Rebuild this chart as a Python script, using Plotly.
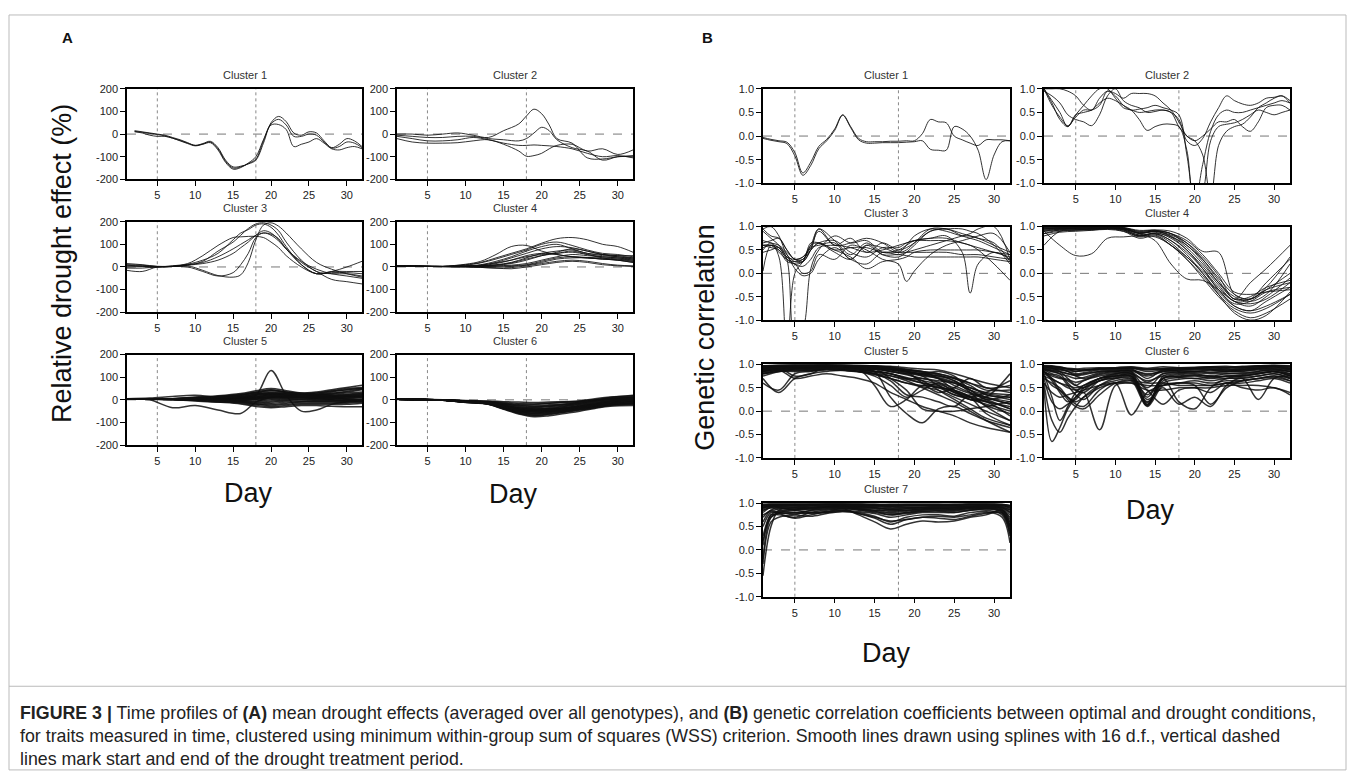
import plotly.graph_objects as go

# page size; the browser adds an 8 px body margin, so the figure is drawn 16 px smaller
PAGE_W, PAGE_H = 1355, 779
OFF = 8
FIG_W, FIG_H = PAGE_W - 2 * OFF, PAGE_H - 2 * OFF

# ---------------- Panel A: relative drought effect (%) ----------------
A1_DAYS = list(range(2, 33))
A1_LINES = [
    [15, 10, 5, 0, -5, -15, -25, -38, -50, -42, -32, -60, -115, -145, -142, -132, -115, -40, 50, 78, 55, 5, -5, 10, 5, -30, -60, -45, -20, -30, -55],
    [12, 8, 3, -2, -8, -18, -28, -40, -50, -44, -35, -65, -120, -150, -145, -130, -110, -30, 45, 65, 40, -10, -10, 0, -5, -35, -62, -55, -35, -40, -60],
    [10, 5, -5, -10, -10, -18, -30, -42, -52, -45, -38, -70, -125, -155, -148, -128, -100, -25, 40, 42, 20, -55, -45, -35, -20, -40, -65, -70, -60, -55, -65],
]

A2_DAYS = [1, 3, 5, 7, 9, 11, 13, 15, 17, 18, 19, 20, 21, 22, 24, 26, 28, 30, 32]
A2_LINES = [
    [0, 0, -5, 0, 5, -5, -15, 15, 45, 80, 110, 90, 40, -20, -40, -105, -110, -100, -95],
    [-5, -10, -15, -15, -10, -10, -20, -25, -30, -20, 5, 30, 15, -25, -60, -75, -115, -100, -100],
    [-20, -35, -40, -40, -38, -30, -25, -45, -75, -98, -95, -85, -65, -50, -45, -75, -65, -90, -70],
    [-10, -20, -30, -30, -25, -15, -25, -40, -50, -50, -48, -50, -52, -55, -65, -85, -100, -95, -105],
]

A3_DAYS = [1, 3, 5, 7, 9, 11, 13, 15, 16, 17, 18, 19, 20, 21, 22, 24, 26, 28, 30, 32]
A3_LINES = [
    [10, 8, 2, 2, 8, 25, 70, 110, 140, 170, 190, 195, 185, 160, 110, 30, -20, -30, -30, -40],
    [5, 5, 0, 3, 12, 30, 60, 120, 150, 165, 185, 190, 175, 140, 90, 10, -30, -20, 0, 25],
    [15, 10, 3, 3, 10, 20, 45, 80, 100, 120, 140, 150, 145, 125, 80, 10, -30, -20, -20, -20],
    [0, 2, 0, 5, 15, 50, 95, 130, 133, 135, 135, 130, 110, 85, 50, 0, -30, -25, -25, -30],
    [-5, -5, 0, 2, 5, -15, -38, -45, -35, 20, 120, 185, 195, 180, 150, 80, 20, -10, -30, -45],
    [-15, -20, 0, 2, 0, -20, -40, -25, 10, 60, 130, 150, 140, 115, 80, 20, -20, -55, -65, -75],
    [8, 3, 0, 3, 8, 15, 30, 60, 85, 110, 140, 160, 150, 120, 80, 25, -10, -30, -40, -50],
]

A4_DAYS = [1, 4, 7, 10, 12, 14, 16, 18, 20, 22, 24, 26, 28, 30, 32]
A4_LINES = [
    [5, 3, 3, 10, 20, 40, 60, 80, 105, 125, 130, 120, 100, 90, 65],
    [5, 3, 3, 12, 25, 55, 90, 95, 70, 55, 45, 40, 35, 35, 30],
    [5, 3, 2, 8, 18, 35, 55, 75, 100, 110, 95, 75, 60, 55, 45],
    [5, 3, 2, 5, 10, 25, 45, 70, 90, 100, 80, 60, 55, 50, 50],
    [5, 3, 2, 4, 8, 20, 40, 60, 80, 90, 85, 70, 55, 45, 40],
    [5, 3, 2, 3, 5, 10, 20, 40, 60, 70, 75, 60, 50, 45, 35],
    [5, 3, 2, 3, 5, 8, 15, 30, 50, 65, 80, 70, 55, 50, 40],
    [5, 3, 2, 2, 3, 5, 8, 15, 30, 45, 55, 50, 45, 40, 30],
    [5, 3, 2, 2, 2, 3, 5, 10, 25, 40, 45, 42, 40, 35, 25],
    [5, 3, 2, 1, 0, 0, 2, 8, 20, 35, 40, 40, 35, 30, 20],
    [5, 3, 2, 2, 5, 15, 30, 50, 60, 55, 45, 40, 35, 30, 25],
    [5, 3, 1, 0, -2, -5, -3, 5, 15, 25, 30, 25, 15, 8, 5],
    [5, 3, 1, 0, -2, -5, -8, 0, 10, 20, 25, 20, 10, 5, 2],
    [5, 3, 2, 3, 8, 18, 30, 45, 55, 60, 65, 55, 45, 40, 35],
    [5, 3, 2, 2, 3, 8, 18, 35, 50, 60, 70, 55, 40, 30, 20],
]

A5_DAYS = [1, 4, 7, 10, 13, 16, 18, 20, 22, 24, 26, 28, 30, 32]
A5_LINES = [
    [5, 5, 3, 2, 5, 10, 20, 130, 20, -50, -45, -20, -10, -5],
    [5, 0, -35, -25, -45, -60, -10, 10, 15, 10, 5, 0, -5, -10],
    [5, 5, 5, 10, 15, 25, 35, 45, 35, 30, 35, 45, 55, 65],
    [5, 5, 5, 8, 12, 20, 30, 40, 35, 25, 30, 40, 50, 55],
    [5, 5, 5, 6, 10, 15, 25, 35, 30, 25, 25, 30, 35, 45],
    [5, 5, 4, 5, 8, 12, 20, 30, 25, 20, 20, 25, 30, 35],
    [5, 5, 4, 4, 6, 10, 15, 25, 25, 20, 18, 20, 25, 30],
    [5, 5, 4, 4, 5, 8, 12, 20, 20, 18, 15, 15, 20, 25],
    [5, 5, 4, 3, 4, 5, 8, 15, 15, 15, 12, 12, 15, 20],
    [5, 5, 3, 2, 3, 3, 5, 10, 10, 10, 10, 10, 10, 15],
    [5, 5, 3, 2, 1, 0, 0, 5, 5, 5, 5, 5, 5, 10],
    [5, 5, 3, 1, 0, -3, -5, 0, 2, 2, 0, 0, 0, 5],
    [5, 5, 3, 0, -3, -8, -15, -10, -5, -5, -5, -5, -5, 0],
    [5, 4, 2, 0, -5, -12, -20, -20, -15, -10, -10, -10, -10, -5],
    [5, 4, 2, -2, -8, -15, -25, -30, -25, -20, -20, -20, -20, -15],
    [5, 4, 1, -3, -10, -18, -30, -35, -30, -25, -25, -28, -30, -30],
    [5, 5, 5, 12, 18, 28, 40, 50, 40, 30, 25, 20, 18, 15],
    [5, 5, 5, 8, 15, 20, 30, 20, 10, 15, 25, 35, 45, 50],
    [5, 3, 0, -5, -10, -5, 5, 15, 20, 20, 15, 10, 5, 0],
    [5, 8, 15, 20, 10, 5, 10, 25, 20, 15, 10, 5, 0, -5],
    [5, 5, 5, 7, 10, 16, 25, 30, 28, 22, 22, 28, 38, 48],
    [5, 5, 4, 5, 7, 10, 18, 25, 22, 18, 16, 18, 22, 28],
    [5, 5, 4, 4, 5, 7, 10, 18, 18, 16, 14, 14, 16, 18],
    [5, 5, 4, 3, 3, 4, 6, 12, 12, 12, 10, 10, 12, 14],
    [5, 5, 3, 2, 2, 2, 3, 8, 8, 8, 8, 8, 8, 12],
    [5, 5, 3, 1, -1, -4, -8, -5, -2, 0, -2, -2, -3, 2],
    [5, 5, 3, 0, -2, -6, -12, -15, -10, -8, -8, -8, -8, -3],
    [5, 5, 5, 9, 14, 22, 32, 42, 32, 28, 30, 38, 45, 50],
    [5, 4, 2, -1, -6, -10, -18, -25, -20, -15, -15, -15, -15, -10],
    [5, 5, 4, 6, 9, 14, 22, 28, 24, 20, 22, 20, 18, 22],
]

A6_DAYS = [1, 4, 7, 10, 13, 15, 17, 19, 21, 23, 25, 27, 29, 32]
A6_LINES = [
    [3, 2, 0, -3, -5, -8, -10, -12, -10, -8, -5, 0, 10, 20],
    [3, 2, 0, -5, -8, -15, -20, -20, -15, -10, -5, 5, 12, 18],
    [3, 2, 0, -5, -10, -18, -25, -30, -25, -20, -10, 0, 8, 12],
    [3, 2, 0, -6, -12, -22, -32, -35, -30, -25, -15, -5, 3, 8],
    [3, 2, 0, -7, -13, -25, -38, -42, -38, -30, -20, -10, -2, 5],
    [3, 2, -1, -8, -14, -28, -42, -48, -42, -35, -25, -15, -5, 0],
    [3, 2, -1, -8, -15, -30, -45, -52, -48, -40, -30, -20, -10, -5],
    [3, 2, -1, -9, -16, -32, -48, -55, -52, -45, -35, -25, -15, -10],
    [3, 2, -1, -10, -17, -35, -52, -60, -55, -48, -38, -28, -18, -12],
    [3, 2, -1, -10, -18, -38, -56, -65, -60, -52, -42, -32, -22, -15],
    [3, 2, -2, -11, -19, -40, -60, -70, -65, -55, -45, -35, -25, -20],
    [3, 2, -2, -12, -20, -42, -63, -75, -70, -60, -50, -38, -28, -25],
    [3, 2, -1, -9, -15, -30, -40, -45, -45, -42, -35, -28, -20, -15],
    [3, 2, 0, -7, -12, -26, -35, -38, -40, -38, -32, -25, -18, -8],
    [3, 2, -1, -9, -16, -34, -50, -58, -50, -40, -28, -18, -8, -3],
    [3, 2, 0, -4, -7, -12, -16, -18, -15, -12, -8, -2, 5, 14],
    [3, 2, 0, -5, -9, -17, -23, -26, -22, -18, -12, -4, 4, 10],
    [3, 2, 0, -6, -11, -20, -28, -32, -28, -22, -15, -6, 2, 6],
    [3, 2, -1, -7, -12, -24, -35, -40, -35, -28, -20, -12, -4, 2],
    [3, 2, -1, -8, -14, -27, -40, -45, -40, -34, -25, -16, -8, -2],
    [3, 2, -1, -9, -16, -30, -45, -50, -45, -38, -30, -22, -14, -8],
    [3, 2, -1, -10, -18, -36, -54, -62, -56, -48, -40, -30, -20, -14],
    [3, 2, -2, -11, -19, -39, -58, -68, -62, -54, -44, -34, -24, -18],
    [3, 2, -1, -8, -13, -26, -38, -44, -42, -38, -30, -22, -14, -10],
    [3, 2, -1, -9, -15, -30, -44, -52, -48, -42, -34, -26, -18, -12],
]

# ---------------- Panel B: genetic correlation ----------------
B1_DAYS = list(range(1, 33))
B1_LINES = [
    [-.03, -.07, -.1, -.13, -.35, -.78, -.55, -.22, -.07, .15, .45, .2, -.05, -.12, -.12, -.12, -.11, -.11, -.1, -.1, .05, .35, .3, .28, 0, -.08, -.15, -.2, -.08, -.08, -.08, -.1],
    [-.05, -.09, -.12, -.16, -.42, -.83, -.62, -.27, -.1, .12, .44, .18, -.08, -.15, -.15, -.14, -.14, -.14, -.13, -.12, -.1, -.28, -.3, -.3, .2, .15, 0, -.3, -.92, -.4, -.12, -.1],
]

B2_DAYS = list(range(1, 33))
B2_LINES = [
    [1, .7, .35, .2, .45, .65, .85, 1, 1, .8, .6, .55, .5, .52, .55, .55, .5, .35, -.1, -.2, -.05, .3, .6, .85, .75, .68, .65, .7, .8, .82, .85, .7],
    [1, .65, .4, .22, .4, .55, .55, .65, .95, .85, .65, .55, .57, .6, .65, .6, .55, .45, -.4, -1.4, -.6, .1, .45, .55, .5, .5, .55, .6, .65, .7, .75, .7],
    [.95, .85, .7, .45, .35, .3, .22, .45, .85, 1, .75, .65, .6, .5, .52, .55, .5, .2, 0, -.1, 0, .15, .3, .3, .35, .2, .1, .3, .6, .65, .65, .55],
    [1, .75, .5, .2, .45, .5, .55, .7, .8, .75, .65, .55, .35, .12, .2, .25, .25, .2, -.3, -1.5, -1.2, -.1, .2, .25, .28, .35, .45, .55, .5, .45, .5, .55],
    [1, 1, 1, .95, .85, .65, .55, .8, .95, .9, .8, .9, .9, .9, .85, .7, .55, .3, 0, -.1, -.4, -1.3, -.2, .1, .2, .25, .4, .6, .7, .8, .85, .75],
]

B3_DAYS = [1, 2, 3, 4, 5, 6, 7, 8, 10, 12, 14, 16, 18, 19, 20, 22, 24, 26, 27, 28, 30, 32]
B3_LINES = [
    [.6, .6, .45, .3, .25, .3, .5, .65, .5, .55, .55, .45, .5, .6, .7, .75, .75, .65, .6, .55, .45, .35],
    [.55, .6, .5, .35, .3, .35, .6, .95, .7, .4, .65, .4, .35, .45, .6, .9, .95, .8, .75, .7, .55, .4],
    [.5, .65, .35, -1.6, 0, .25, .55, .6, .65, .3, .6, .4, .4, .38, .35, .35, .35, .35, .35, .35, .3, .25],
    [.9, .75, .6, .3, -1.4, -1.2, .1, .5, .8, .65, .7, .45, .45, .45, .45, .45, .45, .4, .4, .4, .35, .3],
    [.05, .6, .55, .3, .2, .25, .65, .65, .45, .3, .6, .55, .45, .6, .8, .95, .9, .8, .8, .75, .6, .45],
    [.6, .55, .5, .25, .2, 0, .05, .4, .3, .6, .5, .3, .2, -.17, .05, .4, .6, .7, .75, .8, .85, .45],
    [.6, .6, .55, .35, .2, .15, .3, .55, .6, .55, .45, .5, .6, .65, .7, .75, .8, .45, -.42, .2, .45, .3],
    [.95, .8, .75, .5, .3, .35, .55, .9, .6, .75, .45, .65, .5, .55, .65, .9, .95, .95, .9, .85, .6, .2],
    [.7, .65, .6, .45, .3, .25, .5, .65, .7, .45, .35, .55, .55, .65, .7, .7, .7, .65, .6, .5, .2, -.15],
    [.45, .5, .55, .4, .1, -.05, 0, .3, .55, .3, .2, .45, .4, .45, .5, .6, .7, .8, .85, .95, 1, .3],
    [.65, .7, .75, .5, .3, .3, .6, .65, .5, .35, .1, .25, .3, .35, .45, .5, .5, .5, .5, .5, .45, .4],
    [.95, 1, .8, .4, .25, .25, .5, .95, .6, .65, .75, .65, .45, .5, .65, .95, .95, .85, .8, .75, .65, .25],
]

B4_DAYS = [1, 3, 5, 7, 9, 11, 13, 15, 17, 19, 21, 23, 25, 27, 29, 32]
B4_LINES = [
    [.95, .97, .97, .98, .98, .97, .9, .92, .85, .6, .3, -.1, -.45, -.55, -.3, .35],
    [.9, .95, .96, .97, .98, .95, .85, .9, .8, .55, .2, -.2, -.5, -.6, -.45, .2],
    [.85, .93, .95, .95, .97, .93, .8, .85, .7, .45, .1, -.3, -.6, -.7, -.5, -.1],
    [.6, .9, .92, .93, .96, .9, .75, .8, .6, .35, 0, -.4, -.7, -.8, -.6, -.3],
    [.9, .6, .38, .42, .75, .78, .8, .78, .6, .3, -.05, -.45, -.75, -.85, -.75, -.45],
    [.95, .97, .95, .93, .95, .95, .85, .7, .2, -.12, -.15, -.35, -.6, -.65, -.55, -.2],
    [.97, .98, .98, .99, .99, .98, .92, .93, .9, .75, .47, .45, -.45, -.55, -.35, 0],
    [.98, .99, .98, .98, .99, .97, .88, .9, .82, .65, .35, -.05, -.55, -.2, .1, .6],
    [.9, .92, .93, .95, .96, .92, .78, .82, .6, .3, -.1, -.5, -.8, -.95, -.85, -.55],
    [.93, .95, .95, .96, .97, .95, .86, .88, .75, .5, .1, -.35, -.65, -.6, -.4, -.3],
    [.8, .88, .9, .92, .94, .9, .8, .85, .7, .4, 0, -.45, -.85, -1, -.9, -.4],
    [.97, .96, .96, .97, .97, .96, .86, .9, .85, .65, .3, -.15, -.55, -.5, -.3, -.15],
    [.92, .94, .95, .95, .96, .94, .82, .86, .78, .6, .25, -.2, -.55, -.55, -.35, -.2],
    [.95, .97, .97, .97, .98, .96, .87, .9, .78, .5, .15, -.25, -.6, -.55, -.2, .3],
    [.99, .99, .99, .99, .99, .98, .9, .92, .85, .7, .4, 0, -.4, -.45, -.4, -.35],
    [.85, .9, .93, .94, .95, .93, .82, .84, .65, .35, .05, -.35, -.7, -.8, -.7, -.45],
]

B5_DAYS = [1, 3, 5, 7, 9, 11, 13, 15, 17, 19, 21, 23, 25, 27, 29, 32]
B5_LINES = [
    [.95, .97, .98, .98, .99, .98, .97, .95, .9, .85, .8, .75, .7, .6, .5, .4],
    [.9, .95, .97, .97, .98, .97, .95, .9, .88, .82, .75, .7, .55, .4, .3, .2],
    [.85, .92, .95, .93, .96, .95, .9, .85, .8, .7, .6, .55, .4, .3, .2, .1],
    [.8, .88, .9, .9, .93, .92, .88, .8, .7, .6, .55, .5, .35, .25, .15, 0],
    [.95, .98, .99, .99, .99, .99, .98, .97, .95, .9, .85, .8, .7, .55, .35, .3],
    [.75, .85, .88, .87, .9, .9, .85, .75, .55, .3, .45, .6, .4, .25, .2, -.1],
    [.6, .45, .8, .85, .9, .88, .85, .9, .7, .45, .05, 0, 0, .05, .1, .2],
    [.7, .4, .7, .8, .85, .88, .9, .55, .1, .25, .55, .5, .45, .3, -.05, -.3],
    [.9, .93, .75, .8, .95, .93, .92, .85, .3, -.05, -.25, .05, .1, -.05, -.2, -.35],
    [.85, .9, .92, .93, .95, .9, .85, .8, .75, .65, .5, .35, .2, 0, -.2, -.45],
    [.92, .95, .96, .95, .97, .96, .93, .9, .85, .8, .65, .45, .25, .05, -.15, -.3],
    [.88, .9, .9, .9, .92, .95, .95, .93, .9, .88, .85, .7, .45, .25, .3, .8],
    [.95, .96, .95, .97, .98, .97, .96, .95, .93, .85, .6, .4, .5, .7, .5, .55],
    [.8, .85, .85, .88, .9, .88, .85, .8, .65, .35, .3, .2, .1, .35, .25, .05],
    [.93, .95, .95, .96, .97, .95, .9, .85, .8, .7, .7, .65, .6, .45, .25, .35],
    [.97, .98, .98, .99, .99, .98, .97, .96, .92, .85, .75, .55, .35, .3, .4, .65],
    [.85, .88, .7, .75, .8, .75, .7, .6, .4, .25, .1, 0, -.1, -.25, -.35, -.45],
    [.9, .92, .93, .94, .95, .95, .95, .92, .85, .8, .8, .75, .65, .4, .1, -.2],
    [.97, .98, .99, .98, .97, .98, .98, .97, .96, .93, .9, .88, .8, .7, .6, .5],
    [.88, .9, .92, .93, .95, .93, .92, .9, .88, .85, .8, .85, .75, .45, .3, .15],
    [.92, .96, .97, .97, .98, .97, .96, .94, .9, .85, .78, .7, .6, .45, .35, .25],
    [.88, .93, .95, .95, .96, .95, .93, .9, .85, .78, .7, .62, .5, .38, .28, .15],
    [.96, .98, .98, .99, .99, .98, .97, .96, .94, .88, .82, .78, .65, .5, .4, .35],
    [.85, .9, .92, .92, .94, .93, .9, .86, .8, .72, .65, .58, .45, .32, .22, .05],
    [.9, .94, .95, .96, .97, .96, .95, .93, .9, .84, .78, .72, .62, .5, .38, .3],
    [.82, .88, .9, .9, .92, .9, .88, .83, .76, .68, .6, .52, .42, .3, .12, -.05],
    [.94, .97, .98, .98, .99, .98, .97, .95, .92, .88, .84, .8, .72, .6, .45, .45],
    [.8, .85, .87, .86, .88, .87, .84, .78, .7, .6, .52, .45, .3, .15, 0, -.2],
]

B6_DAYS = [1, 2, 3, 4, 5, 6, 8, 10, 12, 14, 16, 18, 20, 22, 24, 26, 28, 30, 32]
B6_LINES = [
    [.95, .95, .93, .9, .9, .92, .93, .92, .93, .9, .9, .92, .93, .95, .93, .95, .97, .98, .95],
    [.9, .88, .85, .8, .78, .8, .85, .85, .88, .8, .85, .88, .9, .9, .88, .9, .92, .95, .9],
    [.85, .75, .7, .65, .55, .65, .75, .8, .82, .5, .8, .82, .85, .82, .85, .85, .9, .9, .85],
    [.8, .3, -.2, .1, .4, .55, .7, .75, .78, .15, .7, .78, .8, .75, .8, .8, .85, .88, .8],
    [.5, -.65, -.35, .05, .3, .45, .65, .7, .72, .12, .65, .72, .75, .7, .75, .75, .8, .85, .75],
    [.6, -.2, -.45, -.15, .1, .3, .55, .65, .68, .2, .6, .68, .7, .65, .7, .7, .75, .8, .7],
    [.7, .2, .05, .15, .25, .4, -.4, .55, .6, .55, .55, .6, .65, .6, .65, .65, .7, .75, .65],
    [.75, .55, .45, .3, .15, .1, .45, .6, -.08, .4, .55, .6, .6, .55, .6, .6, .65, .7, .6],
    [.95, .92, .85, .7, .55, .5, .7, .8, .8, .3, .7, .2, .05, .5, .7, .75, .8, .85, .8],
    [.9, .85, .8, .6, .45, .4, .65, .75, .75, .25, .5, .15, .3, .1, .55, .7, .25, .7, .75],
    [.88, .8, .75, .55, .35, .25, .55, .7, .7, .45, .15, .45, .5, .4, .6, .5, .45, .5, .35],
    [.98, .97, .95, .9, .85, .88, .9, .9, .92, .85, .88, .9, .92, .93, .9, .92, .95, .97, .93],
    [.92, .9, .88, .85, .8, .82, .88, .88, .9, .7, .88, .85, .85, .88, .85, .88, .9, .92, .88],
    [.7, .6, .5, .3, .2, .3, .5, .6, .65, .6, .6, .55, .55, .55, .6, .65, .7, .72, .65],
    [.85, .7, .45, .25, .1, .05, .35, .6, .65, .1, .55, .6, .55, .15, .5, .65, .7, .75, .7],
    [.6, .4, .3, .35, .4, .45, .55, .6, .6, .45, .45, .5, .5, .5, .55, .55, .55, .5, .4],
    [.95, .93, .9, .85, .75, .7, .8, .85, .85, .13, .75, .8, .82, .8, .8, .82, .85, .88, .85],
    [.85, .65, .4, .2, .3, .5, .7, .75, .75, .18, .7, .75, .78, .75, .75, .78, .82, .85, .78],
    [.97, .96, .94, .92, .9, .88, .9, .93, .95, .92, .95, .93, .92, .95, .96, .94, .96, .98, .97],
    [.8, .7, .6, .55, .5, .55, .7, .78, .8, .65, .75, .72, .7, .72, .7, .72, .75, .8, .72],
    [.93, .92, .9, .87, .85, .86, .9, .9, .92, .88, .9, .9, .92, .93, .92, .94, .95, .96, .92],
    [.88, .85, .8, .75, .7, .72, .82, .85, .86, .75, .84, .86, .88, .88, .86, .88, .92, .94, .88],
    [.96, .95, .93, .9, .88, .88, .92, .93, .94, .9, .92, .93, .94, .95, .94, .96, .97, .98, .96],
    [.82, .78, .72, .68, .62, .66, .78, .82, .84, .62, .8, .83, .85, .84, .84, .86, .88, .9, .84],
    [.9, .87, .84, .8, .76, .78, .85, .87, .88, .78, .86, .88, .9, .9, .88, .9, .93, .95, .9],
    [.75, .68, .6, .5, .45, .5, .65, .72, .75, .35, .7, .74, .76, .74, .74, .76, .8, .84, .76],
]

B7_DAYS = [1, 2, 3, 5, 7, 9, 11, 13, 15, 17, 19, 21, 23, 25, 27, 29, 31, 32]
B7_LINES = [
    [.95, .97, .97, .97, .97, .97, .97, .97, .97, .97, .97, .97, .97, .97, .97, .97, .97, .95],
    [.9, .95, .95, .95, .96, .96, .96, .95, .95, .94, .95, .95, .95, .95, .96, .96, .95, .9],
    [.8, .92, .93, .92, .94, .94, .94, .93, .93, .92, .92, .92, .93, .93, .94, .94, .92, .85],
    [-.55, .5, .85, .9, .9, .92, .92, .9, .9, .88, .9, .9, .9, .9, .92, .92, .9, .8],
    [-.2, .7, .8, .85, .88, .9, .9, .88, .85, .85, .85, .88, .88, .88, .9, .9, .85, .6],
    [.1, .75, .75, .7, .8, .85, .88, .85, .8, .75, .8, .85, .85, .85, .88, .88, .8, .4],
    [.5, .8, .78, .68, .75, .82, .85, .82, .78, .7, .75, .8, .8, .8, .85, .85, .75, .3],
    [.7, .85, .8, .75, .72, .78, .82, .8, .72, .6, .7, .75, .75, .72, .8, .82, .7, .15],
    [.85, .9, .85, .8, .78, .8, .85, .78, .68, .55, .65, .7, .68, .65, .72, .78, .8, .5],
    [.9, .93, .9, .85, .8, .82, .88, .75, .6, .45, .55, .62, .6, .62, .7, .75, .85, .7],
    [-.3, .6, .7, .75, .85, .88, .9, .87, .83, .75, .78, .82, .83, .8, .85, .88, .82, .5],
    [.3, .75, .82, .87, .9, .92, .93, .9, .88, .82, .85, .87, .88, .87, .9, .9, .88, .65],
    [.95, .96, .96, .96, .97, .98, .98, .97, .96, .93, .94, .95, .96, .96, .97, .97, .96, .88],
    [.75, .82, .8, .78, .8, .8, .82, .78, .7, .62, .65, .7, .72, .7, .75, .8, .78, .35],
    [.92, .94, .92, .9, .92, .93, .95, .93, .9, .87, .88, .9, .91, .9, .92, .93, .9, .75],
    [.98, .99, .99, .99, .99, .99, .99, .99, .98, .98, .98, .98, .98, .98, .99, .99, .98, .95],
    [.93, .96, .96, .96, .96, .97, .97, .96, .96, .95, .96, .96, .96, .96, .97, .97, .96, .92],
    [.88, .93, .93, .93, .94, .95, .95, .94, .93, .9, .91, .92, .93, .93, .94, .95, .94, .85],
    [.85, .9, .9, .88, .9, .92, .93, .91, .9, .86, .88, .9, .9, .9, .92, .93, .92, .8],
    [.97, .98, .98, .98, .98, .98, .98, .98, .97, .96, .97, .97, .97, .97, .98, .98, .97, .93],
    [.6, .85, .88, .86, .87, .9, .91, .88, .85, .8, .83, .86, .87, .86, .89, .9, .87, .55],
    [.2, .7, .78, .8, .84, .87, .88, .86, .82, .78, .8, .83, .84, .83, .86, .88, .84, .45],
]

X_TICKS = [5, 10, 15, 20, 25, 30]
A_Y_TICKS = [-200, -100, 0, 100, 200]
A_Y_LABELS = ["-200", "-100", "0", "100", "200"]
B_Y_TICKS = [-1.0, -0.5, 0.0, 0.5, 1.0]
B_Y_LABELS = ["-1.0", "-0.5", "0.0", "0.5", "1.0"]
DROUGHT_START, DROUGHT_END = 5, 18

# (days, lines, dense) for each cluster
A_CLUSTERS = [(A1_DAYS, A1_LINES, False), (A2_DAYS, A2_LINES, False), (A3_DAYS, A3_LINES, False),
              (A4_DAYS, A4_LINES, False), (A5_DAYS, A5_LINES, True), (A6_DAYS, A6_LINES, True)]
B_CLUSTERS = [(B1_DAYS, B1_LINES, False), (B2_DAYS, B2_LINES, False), (B3_DAYS, B3_LINES, False),
              (B4_DAYS, B4_LINES, False), (B5_DAYS, B5_LINES, True), (B6_DAYS, B6_LINES, True),
              (B7_DAYS, B7_LINES, True)]

# ---------------- layout, in page pixels ----------------
A_COLS = [(127, 362), (397, 633)]
A_ROWS = [(84, 176), (219, 311), (354, 446)]
B_COLS = [(763, 1010), (1044, 1290)]
B_ROWS = [(84, 180), (224, 319), (364, 459), (505, 600)]

FONT = "Liberation Sans, Arial, sans-serif"


def fx(px):
    return (px - OFF) / FIG_W


def fy(py):
    return 1 - (py - OFF) / FIG_H


fig = go.Figure()
layout = {}
shapes = []
annotations = []

subplots = []
for k, (days, lines, dense) in enumerate(A_CLUSTERS):
    subplots.append((days, lines, dense, A_COLS[k % 2], A_ROWS[k // 2], [-200, 200], A_Y_TICKS, A_Y_LABELS, k + 1))
for k, (days, lines, dense) in enumerate(B_CLUSTERS):
    subplots.append((days, lines, dense, B_COLS[k % 2], B_ROWS[k // 2], [-1, 1], B_Y_TICKS, B_Y_LABELS, k + 1))

tick_font = dict(family=FONT, size=11, color="#222")

for i, (days, lines, dense, col, row, yrange, yt, ylab, num) in enumerate(subplots, start=1):
    xa = "xaxis" if i == 1 else f"xaxis{i}"
    ya = "yaxis" if i == 1 else f"yaxis{i}"
    xr = "x" if i == 1 else f"x{i}"
    yr = "y" if i == 1 else f"y{i}"
    common = dict(showline=True, linecolor="black", linewidth=1.5, mirror=True,
                  ticks="outside", ticklen=5, tickwidth=1.3, tickcolor="black",
                  showgrid=False, zeroline=False, tickfont=tick_font)
    layout[xa] = dict(domain=[fx(col[0]), fx(col[1])], anchor=yr, range=[1, 32],
                      tickvals=X_TICKS, **common)
    layout[ya] = dict(domain=[fy(row[1]), fy(row[0])], anchor=xr, range=yrange,
                      tickvals=yt, ticktext=ylab, **common)

    lw = 1.5 if dense else 1.0
    for vals in lines:
        fig.add_trace(go.Scatter(x=days, y=vals, mode="lines", xaxis=xr, yaxis=yr,
                                 line=dict(color="rgba(15,15,15,0.85)", width=lw,
                                           shape="spline", smoothing=1.0),
                                 hoverinfo="skip", showlegend=False))

    # zero line and drought period markers
    shapes.append(dict(type="line", xref=f"{xr} domain", yref=yr, x0=0, x1=1, y0=0, y1=0,
                       line=dict(color="#777", width=1, dash="dash"), layer="below"))
    for d in (DROUGHT_START, DROUGHT_END):
        shapes.append(dict(type="line", xref=xr, yref=f"{yr} domain", x0=d, x1=d, y0=0, y1=1,
                           line=dict(color="#888", width=1, dash="dot"), layer="below"))

    annotations.append(dict(text=f"Cluster {num}", xref="paper", yref="paper",
                            x=fx((col[0] + col[1]) / 2), y=fy(row[0] - 14),
                            showarrow=False, xanchor="center", yanchor="middle",
                            font=dict(family=FONT, size=11, color="#333")))

big = dict(family=FONT, size=27, color="#111")
for txt, x, y, ang in [("Relative drought effect (%)", 62, 262, -90),
                       ("Genetic correlation", 705, 337, -90),
                       ("Day", 248, 495, 0), ("Day", 513, 496, 0),
                       ("Day", 1150, 512, 0), ("Day", 887, 657, 0)]:
    annotations.append(dict(text=txt, xref="paper", yref="paper", x=fx(x), y=fy(y),
                            textangle=ang, showarrow=False, xanchor="center",
                            yanchor="middle", font=big))

for txt, x in [("A", 67), ("B", 707)]:
    annotations.append(dict(text=f"<b>{txt}</b>", xref="paper", yref="paper", x=fx(x), y=fy(32),
                            showarrow=False, xanchor="center", yanchor="middle",
                            font=dict(family=FONT, size=15, color="#111")))

caption = [
    "<b>FIGURE 3 |</b> Time profiles of <b>(A)</b> mean drought effects (averaged over all genotypes), and "
    "<b>(B)</b> genetic correlation coefficients between optimal and drought conditions,",
    "for traits measured in time, clustered using minimum within-group sum of squares (WSS) criterion. "
    "Smooth lines drawn using splines with 16 d.f., vertical dashed",
    "lines mark start and end of the drought treatment period.",
]
for txt, y in zip(caption, [718, 742, 765]):
    annotations.append(dict(text=txt, xref="paper", yref="paper", x=fx(18), y=fy(y),
                            showarrow=False, xanchor="left", yanchor="middle",
                            font=dict(family=FONT, size=17.8, color="#222")))

# outer frame and separator above the caption
shapes.append(dict(type="rect", xref="paper", yref="paper", x0=fx(9), x1=fx(1346),
                   y0=fy(776), y1=fy(9), line=dict(color="#bbb", width=1)))
shapes.append(dict(type="line", xref="paper", yref="paper", x0=fx(9), x1=fx(1346),
                   y0=fy(691), y1=fy(691), line=dict(color="#bbb", width=1)))

fig.update_layout(width=FIG_W, height=FIG_H, margin=dict(l=0, r=0, t=0, b=0),
                  paper_bgcolor="white", plot_bgcolor="white",
                  shapes=shapes, annotations=annotations, showlegend=False, **layout)

fig.write_html("out.html")
